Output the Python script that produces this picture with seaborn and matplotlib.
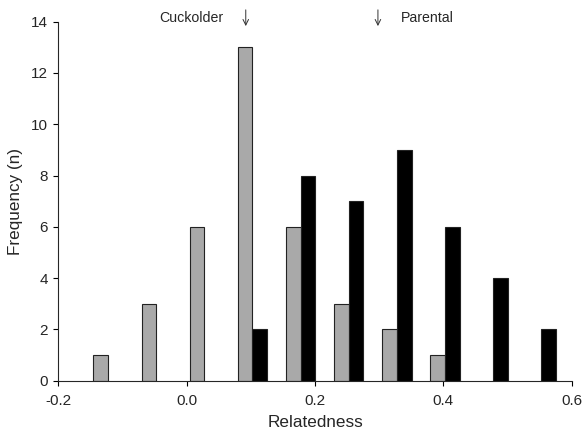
import numpy as np
import pandas as pd
import seaborn as sns
import matplotlib.pyplot as plt

# bin centres of the relatedness histogram
bin_centres = [-0.1225, -0.0475, 0.0275, 0.1025, 0.1775, 0.2525, 0.3275, 0.4025, 0.4775, 0.5525]
cuckolder = [1, 3, 6, 13, 6, 3, 2, 1, 0, 0]
parental = [0, 0, 0, 2, 8, 7, 9, 6, 4, 2]
groups = ['Cuckolder', 'Parental']
arrow_pos = [0.092, 0.298]

rows = []
for b, c, p in zip(bin_centres, cuckolder, parental):
    rows.append({'bin': b, 'n': c, 'group': 'Cuckolder'})
    rows.append({'bin': b, 'n': p, 'group': 'Parental'})
df = pd.DataFrame(rows)
df = df[df['n'] > 0]

sns.set_style('ticks')
plt.rcParams['font.family'] = ['Liberation Sans', 'DejaVu Sans']

fig = plt.figure(figsize=(5.83, 4.32), dpi=100)
ax = fig.add_axes([0.1002, 0.1188, 0.8804, 0.831])

sns.barplot(data=df, x='bin', y='n', hue='group', hue_order=groups,
            palette={'Cuckolder': '#a9a9a9', 'Parental': '#000000'},
            native_scale=True, width=0.613, dodge=True,
            edgecolor='#222222', linewidth=0.8, saturation=1, ax=ax, legend=False)

ax.set_xlim(-0.2, 0.6)
ax.set_ylim(0, 14)
ax.set_xticks([-0.2, 0.0, 0.2, 0.4, 0.6])
ax.set_xticklabels(['-0.2', '0.0', '0.2', '0.4', '0.6'])
ax.set_yticks(range(0, 15, 2))
ax.tick_params(labelsize=11, length=3.5, width=0.8, color='black')
ax.tick_params(axis='x', pad=6)
ax.tick_params(axis='y', pad=4)
ax.set_xlabel('Relatedness', fontsize=12.3, labelpad=5)
ax.set_ylabel('Frequency (n)', fontsize=12.3, labelpad=6)
for s in ['top', 'right']:
    ax.spines[s].set_visible(False)
for s in ['left', 'bottom']:
    ax.spines[s].set_linewidth(0.8)

for xa in arrow_pos:
    ax.annotate('', xy=(xa, 13.72), xytext=(xa, 14.57), annotation_clip=False,
                arrowprops=dict(arrowstyle='->', color='#333333', lw=0.7))
ax.text(0.057, 14.13, 'Cuckolder', ha='right', va='center', fontsize=10.2, clip_on=False)
ax.text(0.333, 14.13, 'Parental', ha='left', va='center', fontsize=10.2, clip_on=False)

fig.savefig('out.png', dpi=100)
